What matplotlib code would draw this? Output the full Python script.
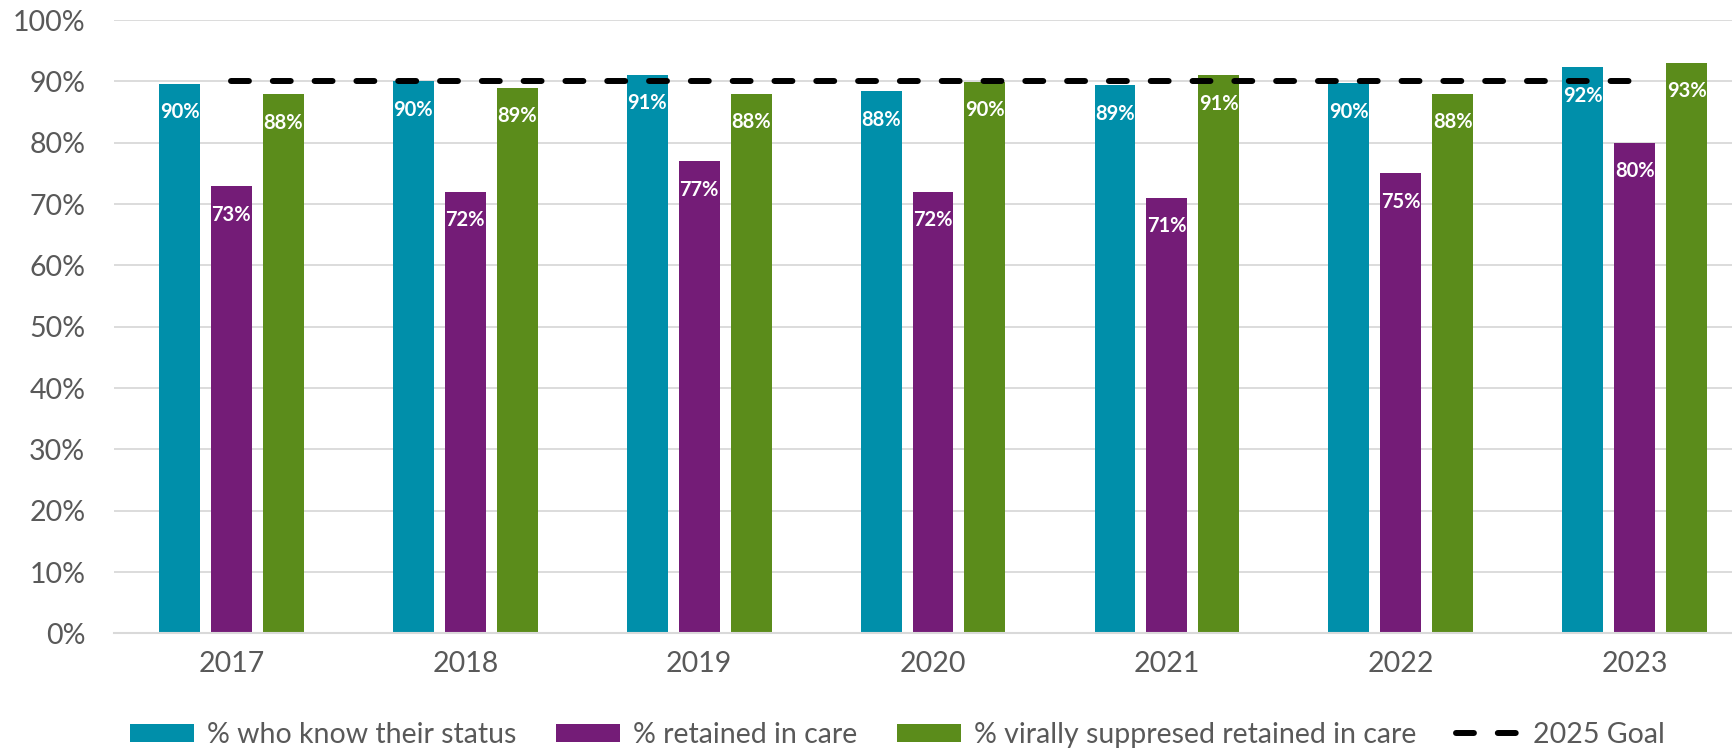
import numpy as np
import matplotlib
matplotlib.use("Agg")
from matplotlib import pyplot as plt
from matplotlib.ticker import FuncFormatter

plt.rcParams['font.family'] = ['Lato', 'DejaVu Sans']

# data
years = ['2017', '2018', '2019', '2020', '2021', '2022', '2023']
know_status = [89.6, 90.0, 91.1, 88.4, 89.4, 89.7, 92.3]
retained = [72.9, 72.0, 77.0, 72.0, 71.0, 75.0, 80.0]
suppressed = [87.9, 89.0, 88.0, 89.9, 91.0, 88.0, 93.0]
goal = 90

series_names = ['% who know their status', '% retained in care',
                '% virally suppresed retained in care']
colors = ['#008FAA', '#741C77', '#5B8C1B']

fig = plt.figure(figsize=(17.32, 7.54), dpi=100)
ax = fig.add_axes([0.0661, 0.160, 0.9452, 0.8134])

x = np.arange(len(years))
step = 0.222
width = 0.175

for i, (vals, name, col) in enumerate(zip([know_status, retained, suppressed], series_names, colors)):
    pos = x + (i - 1) * step
    bars = ax.bar(pos, vals, width, color=col, label=name, zorder=2)
    for b, v in zip(bars, vals):
        ax.annotate(f"{v:.0f}%", (b.get_x() + b.get_width() / 2, v),
                    xytext=(0, -20.5), textcoords='offset points',
                    ha='center', va='center', color='white',
                    fontsize=14.5, fontweight='bold', zorder=4)

# goal line across the groups
ax.plot(x[[0, -1]], [goal, goal], color='black', lw=4.3, dashes=(3, 4),
        dash_capstyle='round', label='2025 Goal', zorder=3)

ax.set_xlim(-0.5, len(years) - 0.5)
ax.set_ylim(0, 100)
ax.set_yticks(np.arange(0, 101, 10))
ax.yaxis.set_major_formatter(FuncFormatter(lambda v, p: f"{v:.0f}%"))
ax.set_xticks(x)
ax.set_xticklabels(years)

ax.grid(axis='y', color='#D9D9D9', lw=1.3, zorder=0)
ax.set_axisbelow(True)
for s in ['top', 'right', 'left']:
    ax.spines[s].set_visible(False)
ax.spines['bottom'].set_color('#D9D9D9')
ax.spines['bottom'].set_linewidth(1.5)

ax.tick_params(axis='both', length=0, labelsize=20.5, colors='#595959')
ax.tick_params(axis='y', pad=21)
ax.tick_params(axis='x', pad=13)

handles, labels = ax.get_legend_handles_labels()
order = [1, 2, 3, 0]
leg = fig.legend([handles[k] for k in order], [labels[k] for k in order],
                 loc='center', bbox_to_anchor=(0.518, 1 - 735 / 754), ncol=4,
                 frameon=False, fontsize=20.5, handlelength=2.25,
                 handleheight=0.6, handletextpad=0.45, columnspacing=1.4)
for t in leg.get_texts():
    t.set_color('#595959')

fig.savefig('out.png', dpi=100)
